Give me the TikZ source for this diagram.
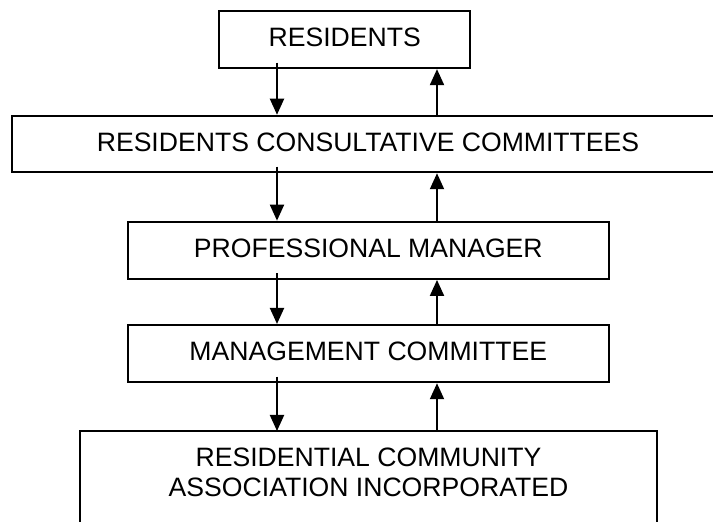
\documentclass[tikz,border=0pt]{standalone}
\usepackage{fontspec}
\setmainfont{Liberation Sans}
\usetikzlibrary{arrows.meta}

\begin{document}
\begin{tikzpicture}[x=1pt, y=1pt,
	boxtext/.style = {inner sep=0pt, font=\fontsize{26.6}{30}\selectfont},
	box/.style = {boxtext, draw, line width=2pt, text depth=4pt},
	flow/.style = {line width=2pt, -{Triangle[length=16pt, width=14pt]}}]
	% Parameters
	\def\downX{277}   % x of the arrows going down
	\def\upX{437}     % x of the arrows going up
	\def\boxH{57.3}   % height of the boxes
	
	% Page
	\useasboundingbox (0,0) rectangle (713,522);
	\fill[white] (0,0) rectangle (713,522);
	\clip (0,0) rectangle (713,522);
	
	% Draw boxes
	\node[box, minimum width=250.7pt, minimum height=\boxH pt] (res) at (344.7,482.5) {RESIDENTS};
	\node[box, minimum width=711.4pt, minimum height=56.5pt] (rcc) at (368,378) {RESIDENTS CONSULTATIVE COMMITTEES};
	\node[box, minimum width=481.5pt, minimum height=\boxH pt] (pm) at (368.3,271.7) {PROFESSIONAL MANAGER};
	\node[box, minimum width=481.5pt, minimum height=\boxH pt] (mc) at (368.3,168.4) {MANAGEMENT COMMITTEE};
	
	% Bottom box, open below the page
	\node[boxtext, align=center, outer sep=0pt, minimum width=577pt, minimum height=83pt] (rcai) at (368.5,49.5)
	{RESIDENTIAL COMMUNITY\\ASSOCIATION INCORPORATED};
	\draw[line width=2pt] (rcai.north west) ++(0,-120) -- (rcai.north west) -- (rcai.north east) -- ++(0,-120);
	
	% Arrows between the boxes
	\coordinate (dn) at (\downX,0);
	\coordinate (up) at (\upX,0);
	\draw[flow, shorten <=-6.5pt] (res.south -| dn) -- (rcc.north -| dn);
	\draw[flow] (rcc.north -| up) -- (res.south -| up);
	\draw[flow, shorten <=-6.5pt] (rcc.south -| dn) -- (pm.north -| dn);
	\draw[flow] (pm.north -| up) -- (rcc.south -| up);
	\draw[flow, shorten <=-6.5pt] (pm.south -| dn) -- (mc.north -| dn);
	\draw[flow] (mc.north -| up) -- (pm.south -| up);
	\draw[flow, shorten <=-6.5pt] (mc.south -| dn) -- (rcai.north -| dn);
	\draw[flow] (rcai.north -| up) -- (mc.south -| up);
	
\end{tikzpicture}
\end{document}
